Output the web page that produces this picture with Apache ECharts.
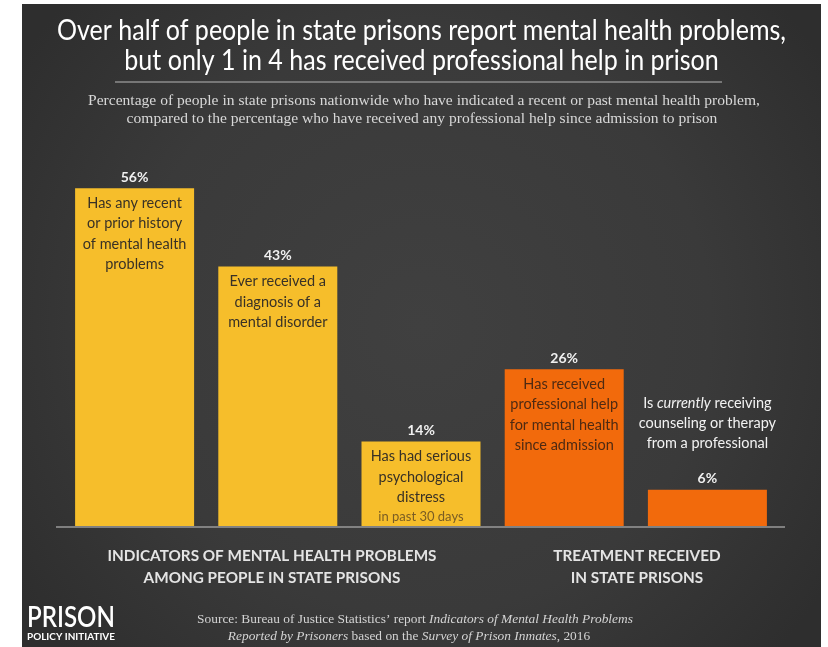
<!DOCTYPE html>
<html>
<head>
<meta charset="utf-8">
<style>
  html, body { margin: 0; padding: 0; background: #ffffff; }
  #chart { width: 828px; height: 647px; }
</style>
<script src="https://cdn.jsdelivr.net/npm/echarts@6/dist/echarts.min.js"></script>
</head>
<body>
<div id="chart"></div>
<script>
// ---- data ----
const categories = [
  'Any mental health history',
  'Diagnosed mental disorder',
  'Serious psychological distress',
  'Professional help since admission',
  'Currently in counseling or therapy'
];
const values = [56, 43, 14, 26, 6];
const groups = ['indicators', 'indicators', 'indicators', 'treatment', 'treatment'];
const descriptions = [
  'Has any recent\nor prior history\nof mental health\nproblems',
  'Ever received a\ndiagnosis of a\nmental disorder',
  'Has had serious\npsychological\ndistress\n{sub|in past 30 days}',
  'Has received\nprofessional help\nfor mental health\nsince admission',
  'Is {em|currently} receiving\ncounseling or therapy\nfrom a professional'
];
const groupLabels = [
  'INDICATORS OF MENTAL HEALTH PROBLEMS\nAMONG PEOPLE IN STATE PRISONS',
  'TREATMENT RECEIVED\nIN STATE PRISONS'
];
const titleLines = [
  'Over half of people in state prisons report mental health problems,',
  'but only 1 in 4 has received professional help in prison'
];
const subtitleLines = [
  'Percentage of people in state prisons nationwide who have indicated a recent or past mental health problem,',
  'compared to the percentage who have received any professional help since admission to prison'
];
const sourceLines = [
  'Source: Bureau of Justice Statistics\u2019 report {i|Indicators of Mental Health Problems}',
  '{i|Reported by Prisoners} based on the {i|Survey of Prison Inmates}, 2016'
];

// ---- styling ----
const groupColor = { indicators: '#f6be2b', treatment: '#f26a0c' };
const textColor = { indicators: '#383126', treatment: '#4e2a12' };
const SANS = 'Lato, "Open Sans", sans-serif';

// horizontal squeeze factor so a line of text spans a given width
const measureCtx = document.createElement('canvas').getContext('2d');
function fitScale(text, font, width) {
  measureCtx.font = font;
  return width / measureCtx.measureText(text.replace(/\{\w+\|([^}]*)\}/g, '$1')).width;
}

const titleFont = '28px Lato';
const titleScale = fitScale(titleLines[0], titleFont, 729);
const subFont = '15px "Liberation Serif"';
const subScale = fitScale(subtitleLines[0], subFont, 672);
const srcFont = '13px "Liberation Serif"';
const srcScale = fitScale(sourceLines[0], srcFont, 434);
const logoScale = fitScale('PRISON', '600 28px Lato', 88);
const logoSubScale = fitScale('POLICY INITIATIVE', 'bold 10px Lato', 88);
const groupFont = 'bold 15px Lato';
const groupScale = fitScale('INDICATORS OF MENTAL HEALTH PROBLEMS', groupFont, 329);

function squeezedText(text, x, y, scale, style) {
  return {
    type: 'text', x: x, y: y, scaleX: scale, z: 10,
    style: Object.assign({
      text: text,
      x: 0, y: 0,
      align: 'center', verticalAlign: 'middle',
      textAlign: 'center', textVerticalAlign: 'middle'
    }, style)
  };
}

const barData = values.map((v, i) => ({
  value: v,
  itemStyle: { color: groupColor[groups[i]] }
}));

const descData = values.map((v, i) => {
  const item = {
    value: v,
    label: { color: textColor[groups[i]] }
  };
  if (v < 10) {
    // short bar: description sits above the value label
    item.label = { position: 'top', distance: 36, color: '#f2f2f2' };
  }
  return item;
});

const chart = echarts.init(document.getElementById('chart'), null, { renderer: 'canvas' });

const sourceRich = {
  i: { fontFamily: '"Liberation Serif", serif', fontSize: 13, fontStyle: 'italic', fill: '#d4d4d4', color: '#d4d4d4' }
};

chart.setOption({
  backgroundColor: '#ffffff',
  animation: false,
  grid: { left: 63, right: 49, top: 164, bottom: 121, containLabel: false },
  xAxis: {
    type: 'category',
    data: categories,
    axisLine: { show: false },
    axisTick: { show: false },
    axisLabel: { show: false }
  },
  yAxis: {
    type: 'value',
    min: 0, max: 60,
    show: false,
    splitLine: { show: false }
  },
  series: [
    {
      name: 'share',
      type: 'bar',
      barWidth: 119,
      data: barData,
      z: 3,
      label: {
        show: true,
        position: 'top',
        distance: 4,
        formatter: '{c}%',
        color: '#f0f0f0',
        fontFamily: SANS,
        fontWeight: 'bold',
        fontSize: 14
      }
    },
    {
      name: 'description',
      type: 'bar',
      barWidth: 119,
      barGap: '-100%',
      silent: true,
      z: 4,
      itemStyle: { color: 'rgba(0,0,0,0)' },
      data: descData,
      label: {
        show: true,
        position: 'insideTop',
        distance: 5,
        formatter: (p) => descriptions[p.dataIndex],
        fontFamily: SANS,
        fontSize: 14.5,
        lineHeight: 20.3,
        align: 'center',
        rich: {
          sub: { fontFamily: SANS, fontSize: 13, lineHeight: 18, color: '#7a5d24' },
          em: { fontFamily: SANS, fontSize: 14.5, lineHeight: 20.3, fontStyle: 'italic', color: '#f2f2f2' }
        }
      }
    }
  ],
  graphic: [
    {
      type: 'rect', z: -10, silent: true,
      shape: { x: 22, y: 4, width: 799, height: 643 },
      style: {
        fill: {
          type: 'radial', x: 0.5, y: 0.5, r: 0.75,
          colorStops: [
            { offset: 0, color: '#404040' },
            { offset: 0.6, color: '#3a3a3a' },
            { offset: 1, color: '#2e2e2e' }
          ]
        }
      }
    },
    squeezedText(titleLines[0], 421.5, 31, titleScale, { font: titleFont, fill: '#ffffff' }),
    squeezedText(titleLines[1], 421.5, 61, titleScale, { font: titleFont, fill: '#ffffff' }),
    {
      type: 'line', z: 10, silent: true,
      shape: { x1: 115, y1: 82, x2: 722, y2: 82 },
      style: { stroke: '#8c8c8c', lineWidth: 1.5 }
    },
    squeezedText(subtitleLines[0], 424, 101, subScale, { font: subFont, fill: '#d8d8d8' }),
    squeezedText(subtitleLines[1], 422, 119, subScale, { font: subFont, fill: '#d8d8d8' }),
    {
      type: 'line', z: 10, silent: true,
      shape: { x1: 56, y1: 527, x2: 785, y2: 527 },
      style: { stroke: '#9a9a9a', lineWidth: 1.5 }
    },
    squeezedText(groupLabels[0], 272, 567, groupScale, {
      font: groupFont, fill: '#e4e4e4', lineHeight: 22
    }),
    squeezedText(groupLabels[1], 637, 567, groupScale, {
      font: groupFont, fill: '#e4e4e4', lineHeight: 22
    }),
    squeezedText('PRISON', 71, 618, logoScale, { font: '600 28px Lato', fill: '#ffffff' }),
    squeezedText('POLICY INITIATIVE', 71, 637, logoSubScale, { font: 'bold 10px Lato', fill: '#ffffff' }),
    squeezedText(sourceLines[0], 415, 620, srcScale, { font: srcFont, fill: '#d4d4d4', rich: sourceRich }),
    squeezedText(sourceLines[1], 409, 637, srcScale, { font: srcFont, fill: '#d4d4d4', rich: sourceRich })
  ]
});
</script>
</body>
</html>
